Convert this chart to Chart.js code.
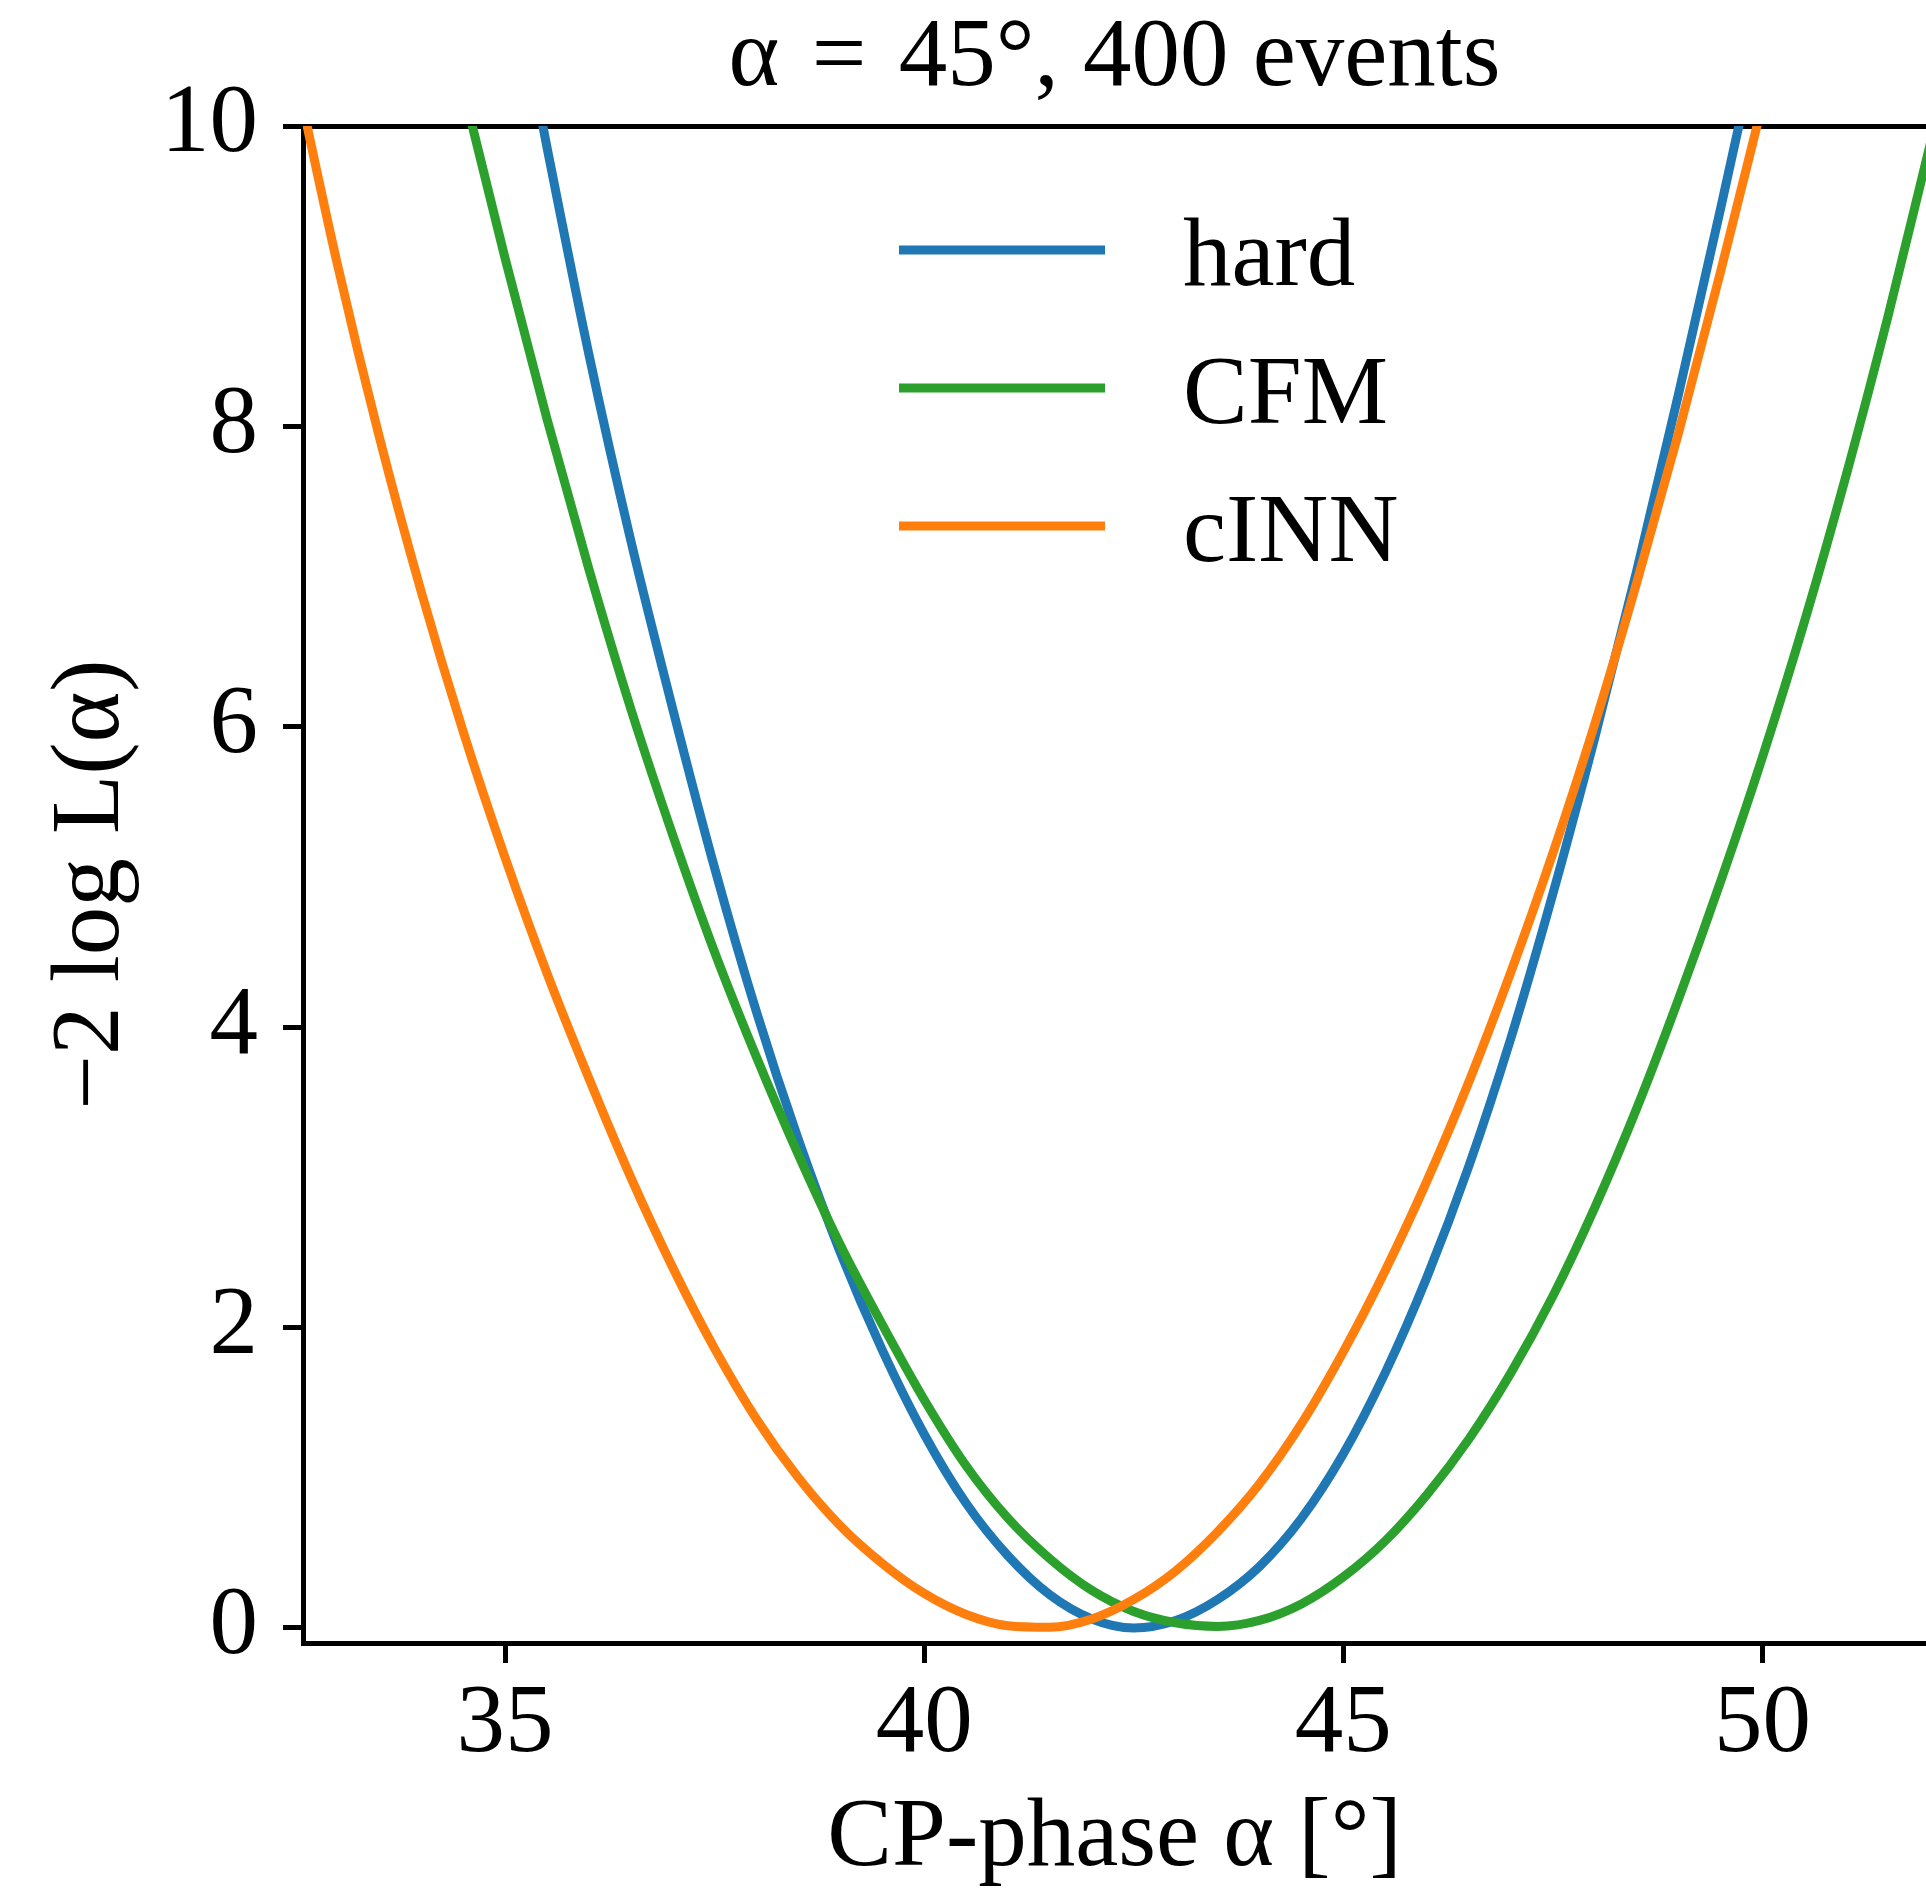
<!DOCTYPE html>
<html>
<head>
<meta charset="utf-8">
<title>-2 log L scan</title>
<script src="https://cdn.jsdelivr.net/npm/chart.js@4.4.1/dist/chart.umd.min.js"></script>
<style>
  html, body { margin: 0; padding: 0; background: #fff; }
  canvas { display: block; }
</style>
</head>
<body>
<canvas id="nll" width="1926" height="1893"></canvas>
<script>
// scan points (CP-phase in degrees) and -2 log L
const hardAlpha = [35.0, 35.5, 36.0, 36.5, 37.0, 37.5, 38.0, 38.5, 39.0, 39.5, 40.0, 40.5, 41.0, 41.5, 42.0, 42.5,
  43.0, 43.5, 44.0, 44.5, 45.0, 45.5, 46.0, 46.5, 47.0, 47.5, 48.0, 48.5, 49.0, 49.5, 50.0];
const hardNll = [11.3, 9.86, 8.48, 7.24, 6.12, 5.06, 4.1, 3.25, 2.5, 1.85, 1.29, 0.83, 0.48, 0.22, 0.06, 0.0,
  0.05, 0.19, 0.41, 0.73, 1.16, 1.7, 2.34, 3.08, 3.93, 4.89, 5.93, 7.04, 8.22, 9.45, 10.72];

const cfmAlpha = [34.5, 35.0, 35.5, 36.0, 36.5, 37.0, 37.5, 38.0, 38.5, 39.0, 39.5, 40.0, 40.5, 41.0, 41.5, 42.0,
  42.5, 43.0, 43.5, 44.0, 44.5, 45.0, 45.5, 46.0, 46.5, 47.0, 47.5, 48.0, 48.5, 49.0, 49.5, 50.0, 50.5, 51.0, 51.5, 52.0];
const cfmNll = [10.25, 9.12, 8.05, 7.05, 6.12, 5.28, 4.5, 3.8, 3.15, 2.55, 2.02, 1.52, 1.08, 0.73, 0.46, 0.25,
  0.11, 0.035, 0.01, 0.05, 0.16, 0.34, 0.58, 0.89, 1.26, 1.7, 2.21, 2.8, 3.46, 4.19, 4.97, 5.8, 6.7, 7.68, 8.74, 9.88];

const cinnAlpha = [32.5, 33.0, 33.5, 34.0, 34.5, 35.0, 35.5, 36.0, 36.5, 37.0, 37.5, 38.0, 38.5, 39.0, 39.5, 40.0,
  40.5, 41.0, 41.5, 42.0, 42.5, 43.0, 43.5, 44.0, 44.5, 45.0, 45.5, 46.0, 46.5, 47.0, 47.5, 48.0, 48.5, 49.0, 49.5, 50.0];
const cinnNll = [10.36, 9.08, 7.93, 6.9, 5.97, 5.13, 4.36, 3.66, 3.0, 2.4, 1.86, 1.39, 1.0, 0.68, 0.43, 0.23,
  0.09, 0.015, 0.005, 0.06, 0.19, 0.38, 0.64, 0.96, 1.36, 1.84, 2.38, 2.98, 3.64, 4.37, 5.16, 6.02, 6.96, 7.96, 9.03, 10.15];

const seriesNames = ['hard', 'CFM', 'cINN'];
const xTicks = [35, 40, 45, 50];
const yTicks = [0, 2, 4, 6, 8, 10];

const serif = '"Liberation Serif", "DejaVu Serif", serif';
const bigFont = { family: serif, size: 97, weight: 'normal', lineHeight: 1 };

const toPoints = (xs, ys) => xs.map((x, i) => ({ x: x, y: ys[i] }));

// legend drawn inside the axes, upper middle, no frame
const innerLegend = {
  id: 'innerLegend',
  afterDraw(chart) {
    const { ctx, chartArea } = chart;
    ctx.save();
    ctx.font = '97px ' + serif;
    ctx.fillStyle = '#000';
    ctx.textAlign = 'left';
    ctx.textBaseline = 'alphabetic';
    chart.data.datasets.forEach((ds, i) => {
      const y = chartArea.top + 124 + i * 138;
      ctx.strokeStyle = ds.borderColor;
      ctx.lineWidth = 9;
      ctx.beginPath();
      ctx.moveTo(chartArea.left + 596, y);
      ctx.lineTo(chartArea.left + 802, y);
      ctx.stroke();
      ctx.fillText(ds.label, chartArea.left + 880, y + 35);
    });
    ctx.restore();
  }
};

const lineSet = (label, xs, ys, colour, order) => ({
  label: label,
  data: toPoints(xs, ys),
  borderColor: colour,
  backgroundColor: colour,
  borderWidth: 9,
  pointRadius: 0,
  cubicInterpolationMode: 'monotone',
  fill: false,
  clip: 0,
  order: order,
  xAxisID: 'x',
  yAxisID: 'y'
});

new Chart(document.getElementById('nll'), {
  type: 'line',
  data: {
    datasets: [
      lineSet(seriesNames[0], hardAlpha, hardNll, '#1f77b4', 3),
      lineSet(seriesNames[1], cfmAlpha, cfmNll, '#2ca02c', 2),
      lineSet(seriesNames[2], cinnAlpha, cinnNll, '#ff7f0e', 1)
    ]
  },
  options: {
    responsive: false,
    devicePixelRatio: 1,
    animation: false,
    events: [],
    layout: { padding: 0 },
    plugins: {
      legend: { display: false },
      tooltip: { enabled: false },
      title: {
        display: true,
        fullSize: false,
        text: 'α\u2004=\u200445°, 400 events',
        color: '#000',
        font: bigFont,
        padding: { top: 11, bottom: 18 }
      }
    },
    scales: {
      x: {
        type: 'linear',
        position: 'bottom',
        min: 32.59,
        max: 51.95,
        z: 1,
        afterBuildTicks: (s) => { s.ticks = xTicks.map(v => ({ value: v })); },
        afterFit: (s) => { s.height = 250; },
        grid: { drawOnChartArea: false, drawTicks: true, tickLength: 20, lineWidth: 5, color: '#000' },
        border: { display: true, color: '#000', width: 5 },
        ticks: { color: '#000', font: bigFont, padding: 14, maxRotation: 0, autoSkip: false },
        title: {
          display: true,
          text: 'CP-phase α [°]',
          color: '#000',
          font: bigFont,
          padding: { top: 0, bottom: 5 }
        }
      },
      x2: {
        type: 'linear',
        position: 'top',
        min: 32.59,
        max: 51.95,
        z: 1,
        afterFit: (s) => { s.height = 0; },
        grid: { drawOnChartArea: false, drawTicks: false, lineWidth: 5, color: '#000' },
        border: { display: true, color: '#000', width: 5 },
        ticks: { display: false }
      },
      y: {
        type: 'linear',
        position: 'left',
        min: -0.1,
        max: 10,
        z: 1,
        afterBuildTicks: (s) => { s.ticks = yTicks.map(v => ({ value: v })); },
        afterFit: (s) => { s.width = 303; },
        grid: { drawOnChartArea: false, drawTicks: true, tickLength: 20, lineWidth: 5, color: '#000' },
        border: { display: true, color: '#000', width: 5 },
        ticks: { color: '#000', font: bigFont, padding: 25 },
        title: {
          display: true,
          text: '−2 log L(α)',
          color: '#000',
          font: bigFont,
          padding: { top: 44, bottom: 0 }
        }
      }
    }
  },
  plugins: [innerLegend]
});
</script>
</body>
</html>
